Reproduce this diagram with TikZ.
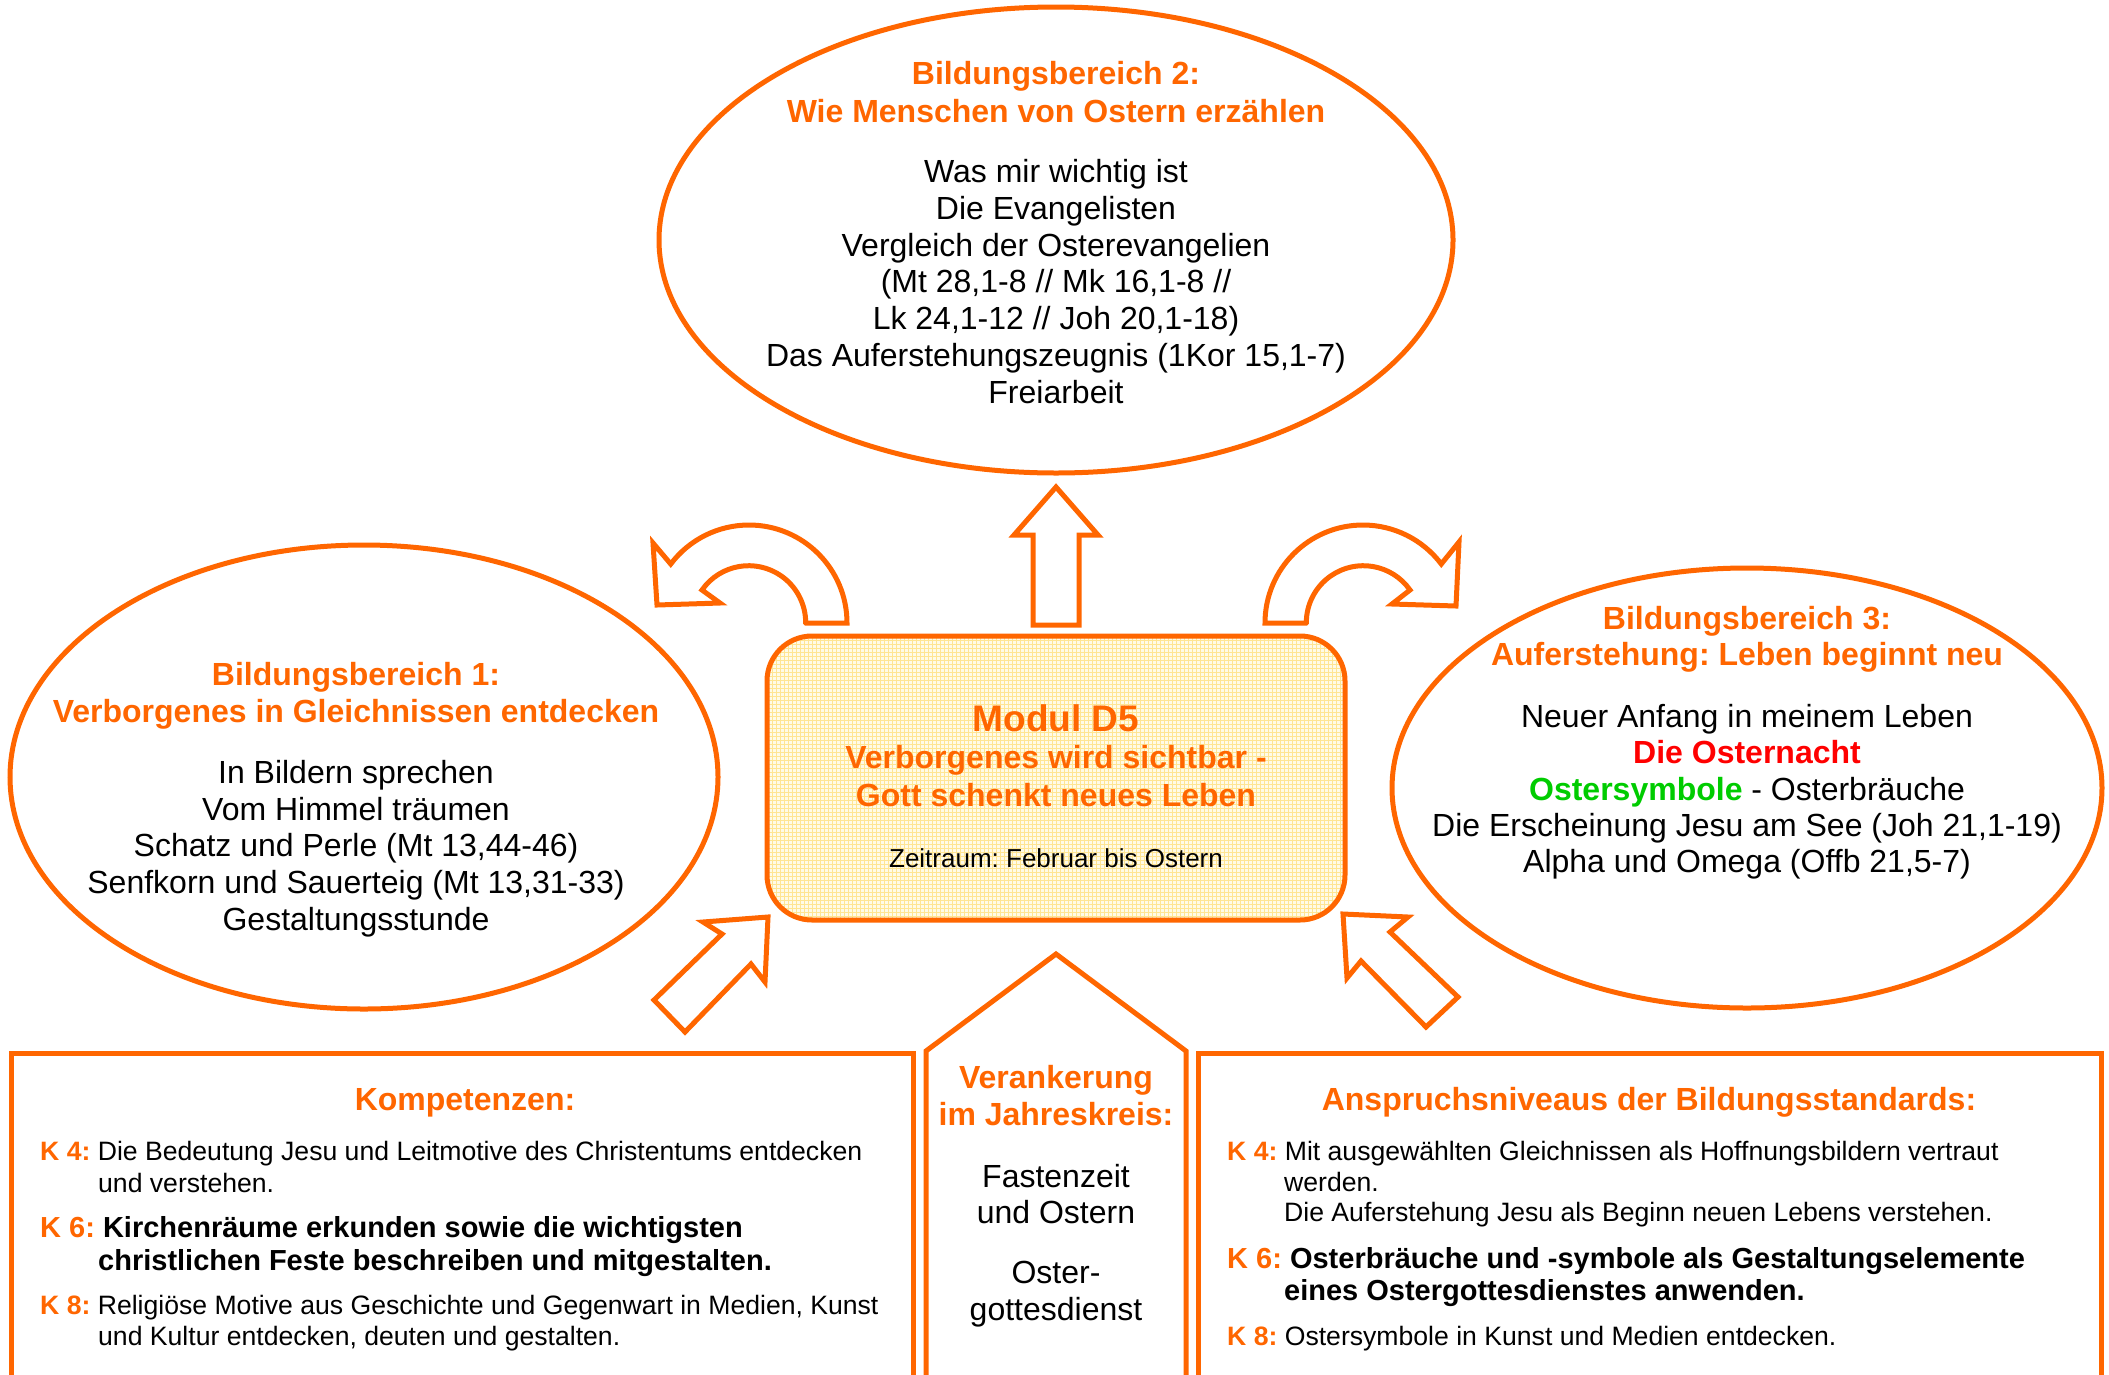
\documentclass[tikz,border=0pt]{standalone}
\usepackage{fontspec}
\setmainfont{Liberation Sans}
\usetikzlibrary{shapes.geometric}
\definecolor{orng}{HTML}{FF6600}
\definecolor{padfill}{HTML}{FFFBE8}
\definecolor{padgrid}{HTML}{FFE593}
\definecolor{osterred}{HTML}{FF0000}
\definecolor{ostergreen}{HTML}{00CC00}

\begin{document}
\frenchspacing
\begin{tikzpicture}[x=1pt,y=1pt,
  outline/.style={draw=orng, line width=5pt, line join=miter},
  ttl/.style={font=\fontsize{32}{37}\selectfont\bfseries, text=orng, inner sep=0, anchor=base},
  body/.style={font=\fontsize{32}{37}\selectfont, inner sep=0, anchor=base},
  kline/.style={font=\fontsize{26.6}{31}\selectfont, inner sep=0, anchor=base west},
  kbold/.style={font=\fontsize{29}{33}\selectfont\bfseries, inner sep=0, anchor=base west}
]
\useasboundingbox (0,0) rectangle (2109,-1374);
\clip (0,0) rectangle (2109,-1374);
\fill[white] (0,0) rectangle (2109,-1374);

% ---------- three learning areas ----------
\node[outline, ellipse, minimum width=794, minimum height=466, inner sep=0] (bb2) at (1056,-240) {};
\node[outline, ellipse, minimum width=708, minimum height=464, inner sep=0] (bb1) at (364,-777) {};
\node[outline, ellipse, minimum width=710, minimum height=440, inner sep=0] (bb3) at (1747,-788) {};

% ---------- central module box with fine yellow mesh ----------
\begin{scope}
  \clip[rounded corners=45] (767,-636) rectangle (1345,-920);
  \fill[padfill] (767,-636) rectangle (1345,-920);
  \draw[padgrid, line width=1pt] (767,-920) grid[step=4] (1345,-636);
\end{scope}
\node[draw=orng, line width=5pt, rounded corners=45, minimum width=578, minimum height=284, inner sep=0] (modul) at (1056,-778) {};

% ---------- block arrows ----------
% straight arrow up
\draw[outline] (1033,-625) -- (1033,-535) -- (1014,-535) -- (1056,-487)
  -- (1098,-535) -- (1079,-535) -- (1079,-625) -- cycle;
% curved arrow to the left
\draw[outline] (806,-623) -- (847,-623) arc[start angle=0, end angle=143, radius=98]
  -- (653,-543) -- (657,-605) -- (720,-603) -- (702,-590)
  arc[start angle=145, end angle=0, radius=57] -- cycle;
% curved arrow to the right
\draw[outline] (1306,-623) -- (1265,-623) arc[start angle=180, end angle=37, radius=98]
  -- (1459,-542) -- (1456,-606) -- (1392,-604) -- (1410,-590)
  arc[start angle=35, end angle=180, radius=57] -- cycle;
% diagonal arrow from lower left
\draw[outline] (654,-1000) -- (722,-934) -- (703,-922) -- (768,-917)
  -- (765,-982) -- (751,-964) -- (685,-1032) -- cycle;
% diagonal arrow from lower right
\draw[outline] (1458,-997) -- (1390,-932) -- (1408,-917) -- (1343,-914)
  -- (1347,-978) -- (1361,-961) -- (1426,-1027) -- cycle;

% ---------- lower panels ----------
\draw[outline] (11,-1400) -- (11,-1053) -- (913,-1053) -- (913,-1400);
\draw[outline] (926,-1400) -- (926,-1051) -- (1056,-954) -- (1186,-1051) -- (1186,-1400);
\draw[outline] (1198,-1400) -- (1198,-1053) -- (2101,-1053) -- (2101,-1400);

% ---------- texts: Bildungsbereich 2 ----------
\node[ttl] (b2a) at (1056,-84) {Bildungsbereich 2:};
\node[ttl] (b2b) at (1056,-122) {Wie Menschen von Ostern erzählen};
\node[body] (b2c) at (1056,-182) {Was mir wichtig ist};
\node[body] (b2d) at (1056,-219) {Die Evangelisten};
\node[body] (b2e) at (1056,-256) {Vergleich der Osterevangelien};
\node[body] (b2f) at (1056,-292) {(Mt 28,1-8 // Mk 16,1-8 //};
\node[body] (b2g) at (1056,-329) {Lk 24,1-12 // Joh 20,1-18)};
\node[body] (b2h) at (1056,-366) {Das Auferstehungszeugnis (1Kor 15,1-7)};
\node[body] (b2i) at (1056,-403) {Freiarbeit};

% ---------- texts: Bildungsbereich 1 ----------
\node[ttl] (b1a) at (356,-685) {Bildungsbereich 1:};
\node[ttl] (b1b) at (356,-722) {Verborgenes in Gleichnissen entdecken};
\node[body] (b1c) at (356,-783) {In Bildern sprechen};
\node[body] (b1d) at (356,-820) {Vom Himmel träumen};
\node[body] (b1e) at (356,-856) {Schatz und Perle (Mt 13,44-46)};
\node[body] (b1f) at (356,-893) {Senfkorn und Sauerteig (Mt 13,31-33)};
\node[body] (b1g) at (356,-930) {Gestaltungsstunde};

% ---------- texts: Bildungsbereich 3 ----------
\node[ttl] (b3a) at (1747,-629) {Bildungsbereich 3:};
\node[ttl] (b3b) at (1747,-665) {Auferstehung: Leben beginnt neu};
\node[body] (b3c) at (1747,-727) {Neuer Anfang in meinem Leben};
\node[body, text=osterred, font=\fontsize{32}{37}\selectfont\bfseries] (b3d) at (1747,-763) {Die Osternacht};
\node[body] (b3e) at (1747,-800) {{\bfseries\color{ostergreen}Ostersymbole} - Osterbräuche};
\node[body] (b3f) at (1747,-836) {Die Erscheinung Jesu am See (Joh 21,1-19)};
\node[body] (b3g) at (1747,-872) {Alpha und Omega (Offb 21,5-7)};

% ---------- texts: module ----------
\node[ttl, font=\fontsize{37}{41}\selectfont\bfseries] (m1) at (1056,-731) {Modul D5};
\node[ttl] (m2) at (1056,-768) {Verborgenes wird sichtbar -};
\node[ttl] (m3) at (1056,-806) {Gott schenkt neues Leben};
\node[body, font=\fontsize{26}{30}\selectfont] (m4) at (1056,-867) {Zeitraum: Februar bis Ostern};

% ---------- texts: Kompetenzen ----------
\node[ttl] (k0) at (465,-1110) {Kompetenzen:};
\node[kline] (k4a) at (40,-1160) {{\color{orng}\bfseries K 4:} Die Bedeutung Jesu und Leitmotive des Christentums entdecken};
\node[kline] (k4b) at (98,-1192) {und verstehen.};
\node[kbold] (k6a) at (40,-1237) {{\color{orng}K 6:} Kirchenräume erkunden sowie die wichtigsten};
\node[kbold] (k6b) at (98,-1270) {christlichen Feste beschreiben und mitgestalten.};
\node[kline] (k8a) at (40,-1314) {{\color{orng}\bfseries K 8:} Religiöse Motive aus Geschichte und Gegenwart in Medien, Kunst};
\node[kline] (k8b) at (98,-1345) {und Kultur entdecken, deuten und gestalten.};

% ---------- texts: Jahreskreis ----------
\node[ttl] (j1) at (1056,-1088) {Verankerung};
\node[ttl] (j2) at (1056,-1125) {im Jahreskreis:};
\node[body] (j3) at (1056,-1187) {Fastenzeit};
\node[body] (j4) at (1056,-1223) {und Ostern};
\node[body] (j5) at (1056,-1283) {Oster-};
\node[body] (j6) at (1056,-1320) {gottesdienst};

% ---------- texts: Anspruchsniveaus ----------
\node[ttl] (a0) at (1649,-1110) {Anspruchsniveaus der Bildungsstandards:};
\node[kline] (a4a) at (1227,-1160) {{\color{orng}\bfseries K 4:} Mit ausgewählten Gleichnissen als Hoffnungsbildern vertraut};
\node[kline] (a4b) at (1284,-1191) {werden.};
\node[kline] (a4c) at (1284,-1221) {Die Auferstehung Jesu als Beginn neuen Lebens verstehen.};
\node[kbold] (a6a) at (1227,-1268) {{\color{orng}K 6:} Osterbräuche und -symbole als Gestaltungselemente};
\node[kbold] (a6b) at (1284,-1300) {eines Ostergottesdienstes anwenden.};
\node[kline] (a8a) at (1227,-1345) {{\color{orng}\bfseries K 8:} Ostersymbole in Kunst und Medien entdecken.};
\end{tikzpicture}
\end{document}
